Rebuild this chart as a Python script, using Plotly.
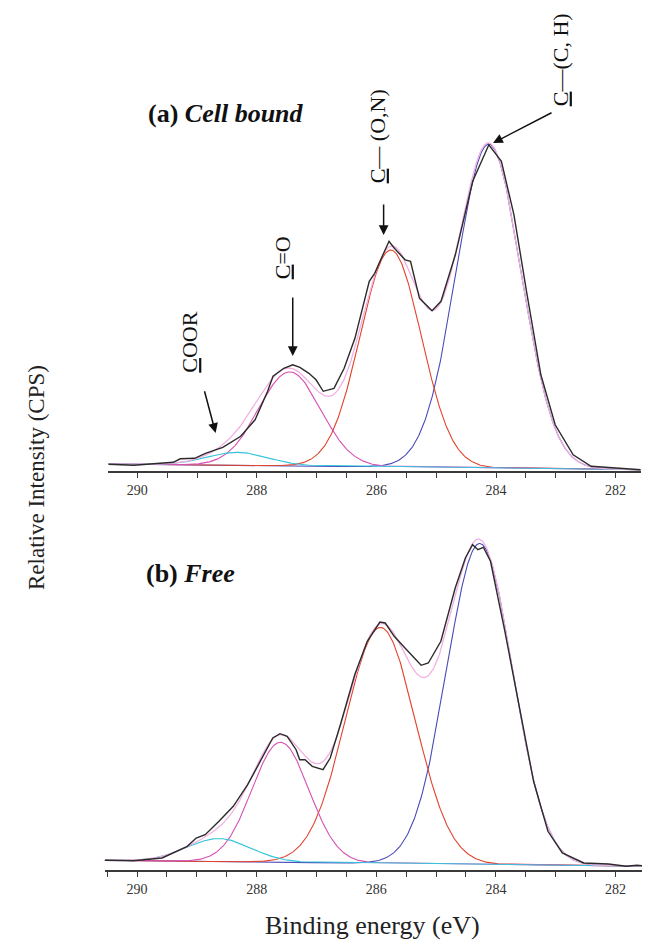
import numpy as np
import plotly.graph_objects as go

# ---------------- data ----------------
# (a) Cell bound: measured spectrum (binding energy eV, relative intensity)
a_ev = [290.48, 290.06, 289.40, 289.28, 289.04, 288.86, 288.57, 288.27, 288.03, 287.82,
        287.73, 287.55, 287.40, 287.28, 287.13, 287.01, 286.89, 286.71, 286.54, 286.36,
        286.12, 286.03, 285.79, 285.70, 285.52, 285.43, 285.28, 285.07, 284.92, 284.68,
        284.39, 284.12, 283.91, 283.70, 283.49, 283.25, 283.01, 282.71, 282.41, 281.99, 281.58]
a_int = [7, 6, 9, 12.5, 13, 18, 24, 35, 51.5, 80,
         95, 103, 106.5, 104, 98, 91.5, 80, 83, 103, 133,
         190, 198, 230, 223, 211.5, 210, 173, 160.5, 170, 216.5,
         290, 326.5, 310, 256.5, 180, 96.5, 46.5, 16.5, 5, 3.3, 1.6]

# (b) Free: measured spectrum
b_ev = [290.54, 290.06, 289.58, 289.16, 289.01, 288.86, 288.63, 288.39, 288.15, 287.91,
        287.73, 287.61, 287.49, 287.34, 287.28, 287.19, 287.07, 286.89, 286.77, 286.60,
        286.36, 286.15, 285.94, 285.85, 285.70, 285.52, 285.37, 285.25, 285.13, 284.92,
        284.68, 284.51, 284.39, 284.30, 284.21, 284.09, 283.85, 283.61, 283.37, 283.13,
        282.89, 282.53, 282.12, 281.82, 281.64, 281.29]
b_int = [9.4, 9, 11.7, 23.4, 31.7, 35, 48.4, 63.4, 85, 111.7,
         131.7, 136, 133.4, 120, 110, 110, 103.4, 100, 111.7, 145,
         195, 228.4, 247.7, 246.7, 233.4, 221.7, 211.7, 204.4, 206.7, 228.4,
         281.7, 311.7, 325, 320, 322.4, 308.4, 238.4, 161.7, 88.4, 38.4,
         16.7, 6.7, 5.7, 3.4, 4.4, 2.4]

# fitted components: names, centres (eV), heights, FWHM (eV)
comp_names = ["C–(C,H)", "C–(O,N)", "C=O", "COOR"]
a_centers = [284.12, 285.76, 287.45, 288.32]
a_heights = [324, 217, 94, 13]
a_fwhm = [1.28, 1.20, 1.22, 1.20]
a_bg_ends = [(290.49, 7.3), (281.58, 1.6)]

b_centers = [284.27, 285.93, 287.60, 288.63]
b_heights = [321, 236, 120, 23]
b_fwhm = [1.30, 1.38, 1.12, 1.25]
b_bg_ends = [(290.54, 9.4), (281.29, 3.2)]

comp_colors = ["#4a4ab8", "#e2432c", "#d64fb4", "#35c4dc"]
env_color = "#f2b0e2"
meas_color = "#2b2b2b"

# ---------------- build figure ----------------
fig = go.Figure()


def add_panel(ev, inten, centers, heights, fwhm, bg_ends, xa, ya):
    grid = np.linspace(min(bg_ends[0][0], bg_ends[1][0]), max(bg_ends[0][0], bg_ends[1][0]), 700)
    (x0, y0), (x1, y1) = bg_ends
    bg = y0 + (grid - x0) * (y1 - y0) / (x1 - x0)
    total = bg.copy()
    comps = []
    for c, h, w in zip(centers, heights, fwhm):
        s = w / 2.3548
        g = h * np.exp(-0.5 * ((grid - c) / s) ** 2)
        comps.append(g + bg)
        total += g
    for name, col, yv in zip(comp_names, comp_colors, comps):
        fig.add_trace(go.Scatter(x=grid, y=yv, mode="lines", name=name,
                                 line=dict(color=col, width=1.1),
                                 xaxis=xa, yaxis=ya, showlegend=False))
    fig.add_trace(go.Scatter(x=grid, y=total, mode="lines", name="envelope",
                             line=dict(color=env_color, width=1.3),
                             xaxis=xa, yaxis=ya, showlegend=False))
    fig.add_trace(go.Scatter(x=ev, y=inten, mode="lines", name="measured",
                             line=dict(color=meas_color, width=1.4),
                             xaxis=xa, yaxis=ya, showlegend=False))


add_panel(a_ev, a_int, a_centers, a_heights, a_fwhm, a_bg_ends, "x", "y")
add_panel(b_ev, b_int, b_centers, b_heights, b_fwhm, b_bg_ends, "x2", "y2")

W, H = 650, 940
serif = "Liberation Serif, Times New Roman, serif"

xcommon = dict(showgrid=False, zeroline=False, showline=True, linecolor="#3a3a3a",
               linewidth=2, ticks="outside", ticklen=5, tickwidth=1.3, tickcolor="#3a3a3a",
               tick0=282, dtick=2,
               minor=dict(dtick=0.5, ticks="outside", ticklen=5, tickwidth=1.3, tickcolor="#3a3a3a"),
               tickfont=dict(family=serif, size=14, color="#333"))

fig.update_layout(
    width=W, height=H,
    margin=dict(l=0, r=0, t=0, b=0),
    paper_bgcolor="white", plot_bgcolor="white",
    xaxis=dict(domain=[100 / W, 632.7 / W], range=[290.49, 281.58], anchor="y", **xcommon),
    yaxis=dict(domain=[(H - 463.3) / H, 1.0], range=[0, 463.3], visible=False),
    xaxis2=dict(domain=[96.7 / W, 1.0], range=[290.54, 281.29], anchor="y2", **xcommon),
    yaxis2=dict(domain=[(H - 861.7) / H, (H - 480) / H], range=[0, 381.7], visible=False),
)

ann = []
# axis titles
ann.append(dict(text="Relative Intensity (CPS)", x=28 / W, y=(H - 470) / H, xref="paper", yref="paper",
                xanchor="center", yanchor="middle",
                textangle=-90, showarrow=False, font=dict(family=serif, size=23, color="#222")))
ann.append(dict(text="Binding energy (eV)", x=364 / W, y=(H - 917) / H, xref="paper", yref="paper",
                xanchor="center", yanchor="middle",
                showarrow=False, font=dict(family=serif, size=26, color="#222")))

# panel labels
ann.append(dict(text="<b>(a) <i>Cell bound</i></b>", x=289.86, y=358, xref="x", yref="y",
                xanchor="left", yanchor="middle", showarrow=False,
                font=dict(family=serif, size=26, color="#111")))
ann.append(dict(text="<b>(b) <i>Free</i></b>", x=289.88, y=296.5, xref="x2", yref="y2",
                xanchor="left", yanchor="middle", showarrow=False,
                font=dict(family=serif, size=26, color="#111")))

# peak labels (rotated)
lab_font = dict(family=serif, size=22, color="#111")
ann.append(dict(text="<u>C</u>—(C, H)", x=282.93, y=412, xref="x", yref="y",
                textangle=-90, showarrow=False, font=lab_font))
ann.append(dict(text="<u>C</u>— (O,N)", x=285.99, y=335, xref="x", yref="y",
                textangle=-90, showarrow=False, font=lab_font))
ann.append(dict(text="<u>C</u>=O", x=287.58, y=214, xref="x", yref="y",
                textangle=-90, showarrow=False, font=lab_font))
ann.append(dict(text="<u>C</u>OOR", x=289.12, y=129.5, xref="x", yref="y",
                textangle=-90, showarrow=False, font=lab_font))

# arrows
arrow_style = dict(showarrow=True, arrowhead=2, arrowsize=1.3, arrowwidth=1.5,
                   arrowcolor="#111", text="", xref="x", yref="y", axref="pixel", ayref="pixel")
ann.append(dict(x=284.05, y=328.3, ax=60, ay=-31, **arrow_style))
ann.append(dict(x=285.88, y=236.3, ax=0, ay=-32, **arrow_style))
ann.append(dict(x=287.40, y=115.3, ax=0, ay=-60, **arrow_style))
ann.append(dict(x=288.69, y=38.3, ax=-11.5, ay=-43.3, **arrow_style))

fig.update_layout(annotations=ann)

fig.write_html("out.html")
